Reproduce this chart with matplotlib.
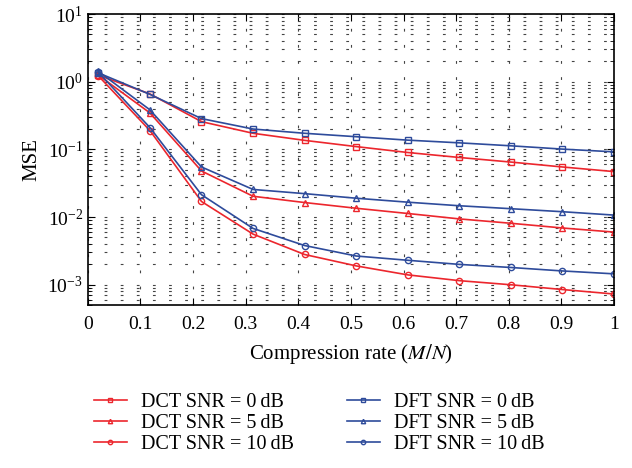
import numpy as np
import matplotlib
matplotlib.use("Agg")
import matplotlib.pyplot as plt
from matplotlib.ticker import LogLocator, NullFormatter, MultipleLocator

plt.rcParams['font.family'] = ['Liberation Serif', 'DejaVu Serif']
plt.rcParams['mathtext.fontset'] = 'stix'

x = [0.02, 0.118, 0.216, 0.314, 0.412, 0.51, 0.608, 0.706, 0.804, 0.902, 1.0]

dct_0 = [1.25, 0.66, 0.257, 0.173, 0.136, 0.110, 0.090, 0.076, 0.065, 0.055, 0.047]
dct_5 = [1.25, 0.346, 0.048, 0.0203, 0.0164, 0.0135, 0.0113, 0.0094, 0.0081, 0.0069, 0.0060]
dct_10 = [1.22, 0.19, 0.017, 0.0056, 0.0028, 0.0019, 0.0014, 0.00115, 0.0010, 0.00085, 0.00073]
dft_0 = [1.35, 0.65, 0.285, 0.200, 0.173, 0.154, 0.137, 0.125, 0.113, 0.101, 0.092]
dft_5 = [1.42, 0.384, 0.055, 0.0256, 0.0222, 0.019, 0.0166, 0.0147, 0.0133, 0.0120, 0.0107]
dft_10 = [1.38, 0.21, 0.0214, 0.0068, 0.0038, 0.00266, 0.0023, 0.0020, 0.0018, 0.0016, 0.00145]

labels_dct = ["DCT SNR = 0\u2009dB", "DCT SNR = 5\u2009dB", "DCT SNR = 10\u2009dB"]
labels_dft = ["DFT SNR = 0\u2009dB", "DFT SNR = 5\u2009dB", "DFT SNR = 10\u2009dB"]

red = '#ec262d'
blue = '#2e4b9b'

fig = plt.figure(figsize=(6.32, 4.68), dpi=100)
ax = fig.add_axes([0.139, 0.348, 0.8325, 0.622])

markers = ['s', '^', 'o']
handles = []
for ys, m, lab in zip([dct_0, dct_5, dct_10], markers, labels_dct):
    h, = ax.plot(x, ys, color=red, marker=m, markersize=4.5, markerfacecolor='none',
                 markeredgewidth=1.0, linewidth=1.2, label=lab)
    handles.append(h)
for ys, m, lab in zip([dft_0, dft_5, dft_10], markers, labels_dft):
    h, = ax.plot(x, ys, color=blue, marker=m, markersize=4.5, markerfacecolor='none',
                 markeredgewidth=1.0, linewidth=1.2, label=lab)
    handles.append(h)

ax.set_yscale('log')
ax.set_ylim(5e-4, 10)
ax.set_xlim(0, 1)
ax.xaxis.set_major_locator(MultipleLocator(0.1))
ax.xaxis.set_major_formatter(matplotlib.ticker.FuncFormatter(lambda v, p: ('%g' % round(v, 2))))
ax.yaxis.set_major_locator(LogLocator(base=10, numticks=10))
ax.yaxis.set_minor_locator(LogLocator(base=10, subs=np.arange(2, 10), numticks=20))
ax.yaxis.set_minor_formatter(NullFormatter())

gls = (0, (2.5, 12))
ax.grid(True, which='major', axis='both', linestyle=gls, color='#444444', linewidth=0.8)
ax.grid(True, which='minor', axis='y', linestyle=gls, color='#444444', linewidth=0.8)
ax.tick_params(which='both', direction='in', top=True, right=True, labelsize=14)
ax.tick_params(which='major', length=5)
ax.tick_params(which='minor', length=3)
ax.tick_params(axis='x', pad=8)
for s in ax.spines.values():
    s.set_linewidth(1.2)

ax.set_xlabel('Compression rate ($\\mathit{M/N}$)', fontsize=15, labelpad=6)
ax.set_ylabel('MSE', fontsize=15)

fig.legend(handles=handles, loc='upper center', bbox_to_anchor=(0.505, 0.2), ncol=2,
           frameon=False, fontsize=14.5, handlelength=1.65, columnspacing=2.6,
           labelspacing=0.1, handletextpad=0.7, markerscale=0.7)

fig.savefig('out.png', dpi=100)
